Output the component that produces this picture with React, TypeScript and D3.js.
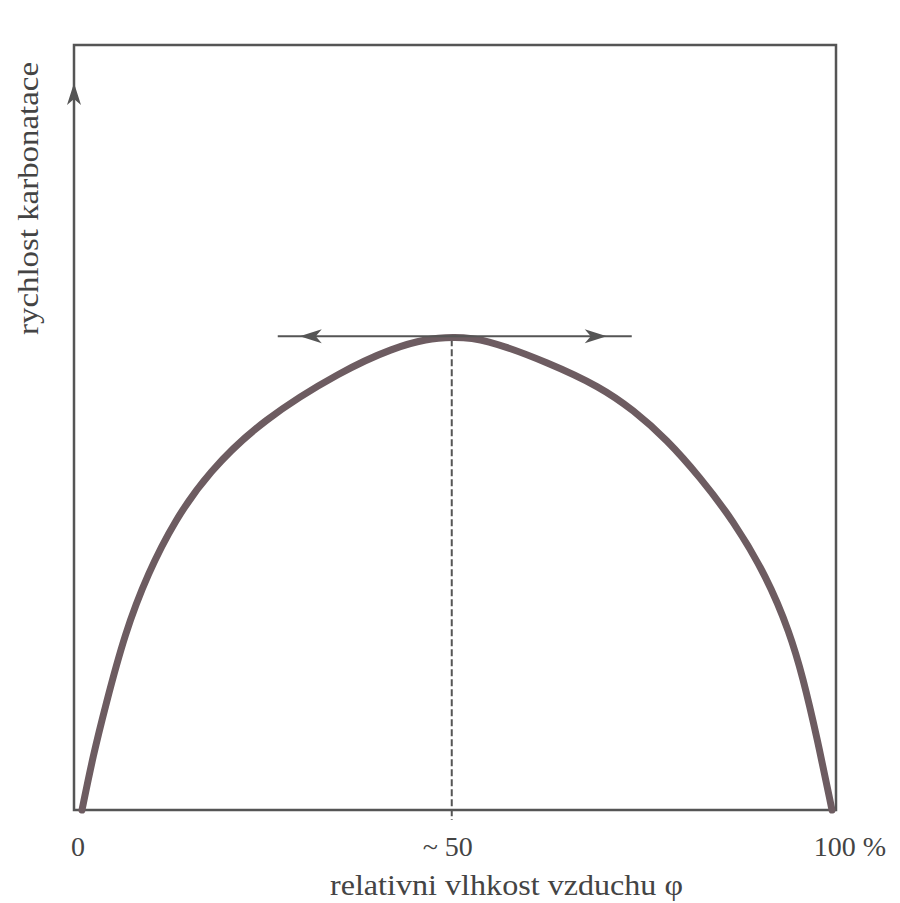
import * as d3 from 'd3';
import { useEffect, useRef } from 'react';

// values (x: relative humidity %, y: carbonation rate, arbitrary 0..100)
const humidity = [0, 1.5, 3.1, 5.7, 8.8, 12.4, 16.8, 24, 34.8, 41.5, 46, 49.3, 53.5, 62.4, 69.1, 73.5, 78, 82.4, 86.8, 91.3, 94.4, 96.1, 98, 100];
const carbonationRate = [0, 7.2, 13.5, 23.1, 31, 37.9, 44.1, 51, 57.5, 60.4, 61.6, 61.8, 61.7, 58.4, 55.3, 52.3, 48.4, 43.5, 37.9, 30.5, 23.1, 17.4, 9.5, 0];
const xTicks = [
  { value: 0, label: '0' },
  { value: 49.3, label: '~ 50' },
  { value: 100, label: '100 %' },
];
const peakX = 49.3;
const peakY = 61.8;
const xTitle = 'relativni vlhkost vzduchu φ';
const yTitle = 'rychlost karbonatace';

const W = 900;
const H = 903;
const frameColor = '#555555';
const curveColor = '#6d5c61';
const font = '"Liberation Serif", "Times New Roman", serif';

export default function App() {
  const ref = useRef<SVGSVGElement>(null);

  useEffect(() => {
    const svg = d3.select(ref.current);
    svg.selectAll('*').remove();

    const x = d3.scaleLinear().domain([0, 100]).range([82, 832]);
    const y = d3.scaleLinear().domain([0, 100]).range([810, 45]);

    const left = x(0) - 8;
    const right = x(100) + 4;
    const top = y(100);
    const bottom = y(0);

    svg.append('rect')
      .attr('width', W)
      .attr('height', H)
      .attr('fill', '#ffffff');

    // frame
    svg.append('path')
      .attr('d', `M${left},${bottom}L${left},${top}L${right},${top}L${right},${bottom}Z`)
      .attr('fill', 'none')
      .attr('stroke', frameColor)
      .attr('stroke-width', 2.5);

    // y-axis arrowhead
    const tipY = 83;
    svg.append('path')
      .attr('d', `M${left},${tipY}L${left - 7},${tipY + 22}L${left},${tipY + 16}L${left + 7},${tipY + 22}Z`)
      .attr('fill', frameColor);

    // dashed line at the maximum
    const px = x(peakX);
    const py = y(peakY);
    svg.append('line')
      .attr('x1', px)
      .attr('x2', px)
      .attr('y1', py + 2)
      .attr('y2', bottom + 10)
      .attr('stroke', frameColor)
      .attr('stroke-width', 2)
      .attr('stroke-dasharray', '7 3');

    // curve
    const points = humidity.map((h, i) => [h, carbonationRate[i]] as [number, number]);
    const line = d3.line<[number, number]>()
      .x((d) => x(d[0]))
      .y((d) => y(d[1]))
      .curve(d3.curveBasis);

    svg.append('path')
      .datum(points)
      .attr('d', line)
      .attr('fill', 'none')
      .attr('stroke', curveColor)
      .attr('stroke-width', 7)
      .attr('stroke-linecap', 'round');

    // horizontal double arrow through the peak
    const arrowY = py - 1;
    svg.append('line')
      .attr('x1', px - 174)
      .attr('x2', px + 180)
      .attr('y1', arrowY)
      .attr('y2', arrowY)
      .attr('stroke', frameColor)
      .attr('stroke-width', 2);

    const lTip = px - 152;
    svg.append('path')
      .attr('d', `M${lTip},${arrowY}L${lTip + 22},${arrowY - 7}L${lTip + 16},${arrowY}L${lTip + 22},${arrowY + 7}Z`)
      .attr('fill', frameColor);

    const rTip = px + 155;
    svg.append('path')
      .attr('d', `M${rTip},${arrowY}L${rTip - 22},${arrowY - 7}L${rTip - 16},${arrowY}L${rTip - 22},${arrowY + 7}Z`)
      .attr('fill', frameColor);

    // tick labels
    svg.selectAll('text.tick')
      .data(xTicks)
      .enter()
      .append('text')
      .attr('class', 'tick')
      .attr('x', (d) => (d.value === 100 ? x(d.value) + 18 : x(d.value) - 4))
      .attr('y', 856)
      .attr('text-anchor', 'middle')
      .style('font-family', font)
      .style('font-size', '28px')
      .style('fill', '#444444')
      .text((d) => d.label);

    svg.append('text')
      .attr('x', 330)
      .attr('y', 895)
      .attr('textLength', 353)
      .attr('lengthAdjust', 'spacingAndGlyphs')
      .style('font-family', font)
      .style('font-size', '29px')
      .style('fill', '#444444')
      .text(xTitle);

    svg.append('text')
      .attr('transform', 'translate(38,335) rotate(-90)')
      .attr('x', 0)
      .attr('y', 0)
      .attr('textLength', 273)
      .attr('lengthAdjust', 'spacingAndGlyphs')
      .style('font-family', font)
      .style('font-size', '29px')
      .style('fill', '#444444')
      .text(yTitle);

    return () => {
      svg.selectAll('*').remove();
    };
  }, []);

  return (
    <svg
      ref={ref}
      width={W}
      height={H}
      style={{ position: 'absolute', left: 0, top: 0 }}
      role="img"
      aria-label="rychlost karbonatace vs relativni vlhkost vzduchu"
    />
  );
}
